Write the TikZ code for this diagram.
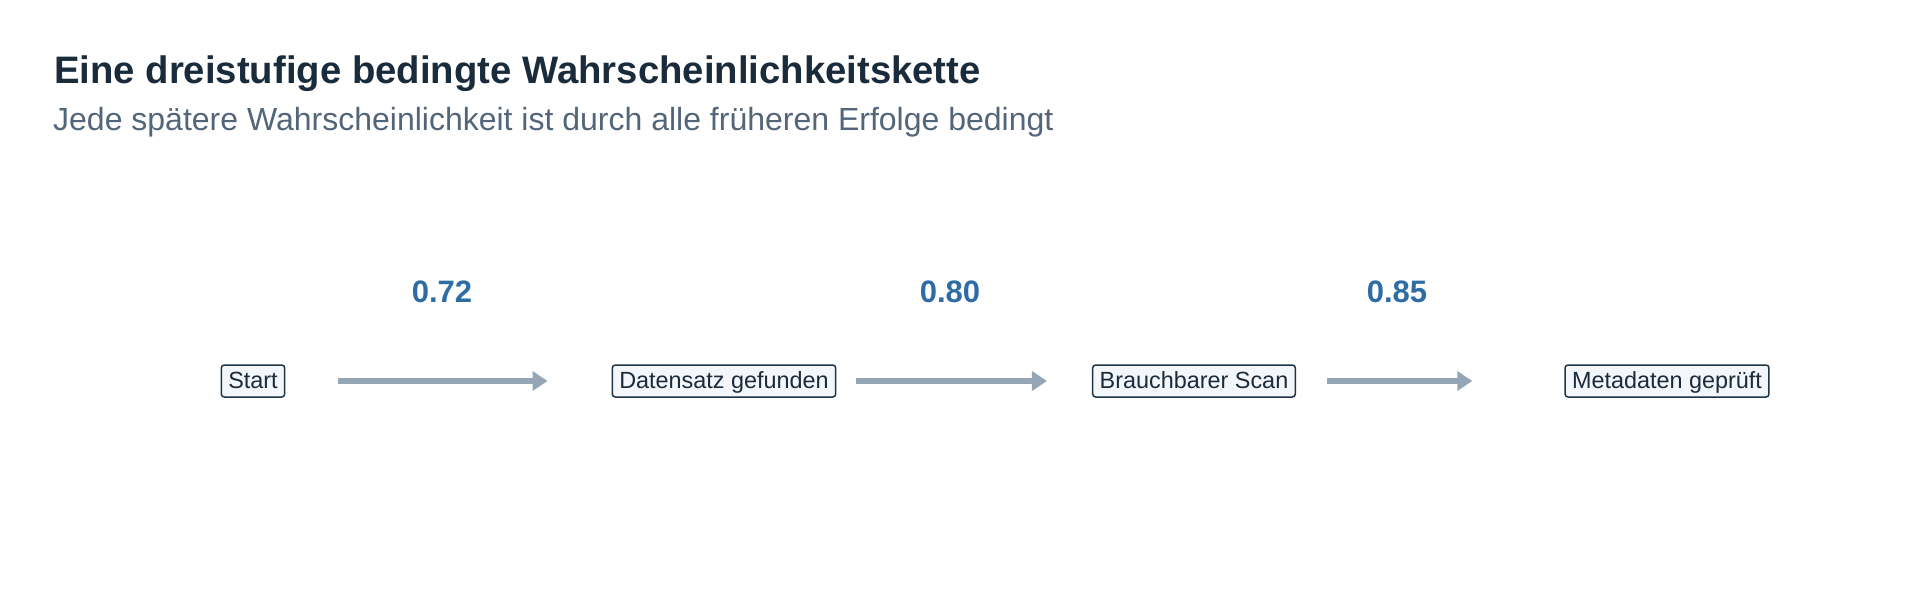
\documentclass[tikz,border=0pt]{standalone}
\usepackage{fontspec}
\setmainfont{Liberation Sans}
\usepackage{xcolor}
\usepackage{tikz}
\definecolor{inknavy}{RGB}{26, 43, 60}
\definecolor{subgray}{RGB}{83, 101, 121}
\definecolor{probblue}{RGB}{46, 109, 164}
\definecolor{arrowgray}{RGB}{148, 165, 181}
\definecolor{boxline}{RGB}{31, 52, 71}
\definecolor{boxfill}{RGB}{243, 246, 250}
\usetikzlibrary{arrows.meta, positioning, calc}

\begin{document}
\begin{tikzpicture}[
    x=1pt, y=-1pt,
    stage/.style={rectangle, rounded corners=3pt, draw=boxline, line width=1.5pt, fill=boxfill,
                  text=inknavy, font=\fontsize{23.4}{26}\selectfont,
                  inner xsep=7pt, inner ysep=5pt, text height=18pt, text depth=4pt},
    flow/.style={-{Triangle[length=15pt, width=19pt]}, line width=6pt, arrowgray},
    prob/.style={anchor=base, text=probblue, font=\fontsize{31}{34}\selectfont\bfseries}
]
    \useasboundingbox (0,0) rectangle (1920,614);

    % Title
    \node[anchor=base west, inner sep=0pt, text=inknavy, font=\fontsize{38.3}{42}\selectfont\bfseries] (title) at (54,83) {Eine dreistufige bedingte Wahrscheinlichkeitskette};
    \node[anchor=base west, inner sep=0pt, text=subgray, font=\fontsize{32}{36}\selectfont] (subtitle) at (53,130) {Jede spätere Wahrscheinlichkeit ist durch alle früheren Erfolge bedingt};

    % Stages
    \node[stage] (start) at (253,381) {Start};
    \node[stage] (found) at (724,381) {Datensatz gefunden};
    \node[stage] (scan) at (1194,381) {Brauchbarer Scan};
    \node[stage] (meta) at (1667,381) {Metadaten geprüft};

    % Arrows
    \draw[flow, shorten <=53pt, shorten >=64pt] (start) -- (found);
    \draw[flow, shorten <=20pt, shorten >=45pt] (found) -- (scan);
    \draw[flow, shorten <=31pt, shorten >=92pt] (scan) -- (meta);

    % Probabilities
    \node[prob] (p1) at (442,302) {0.72};
    \node[prob] (p2) at (950,302) {0.80};
    \node[prob] (p3) at (1397,302) {0.85};
\end{tikzpicture}
\end{document}
